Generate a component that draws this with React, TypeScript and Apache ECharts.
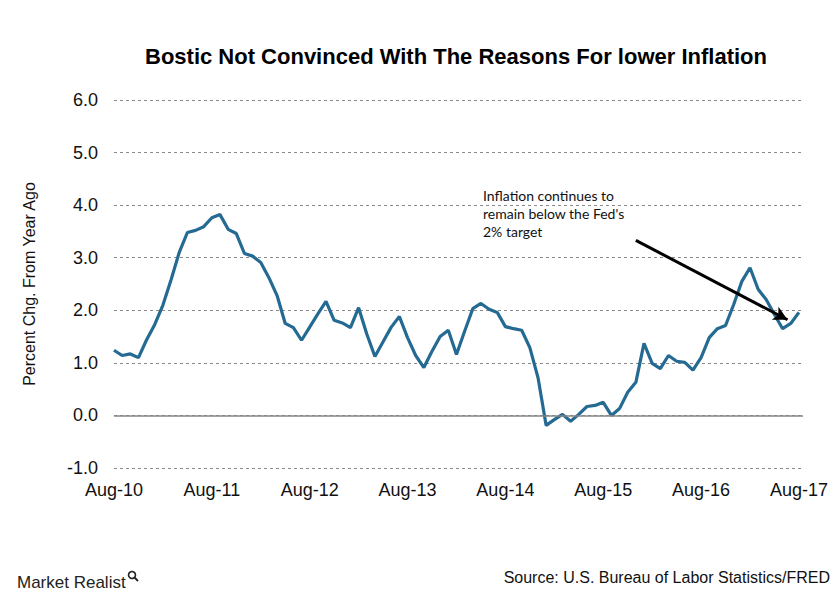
import React, { useEffect, useRef } from "react";
import * as echarts from "echarts";

const xTickLabels = ["Aug-10", "Aug-11", "Aug-12", "Aug-13", "Aug-14", "Aug-15", "Aug-16", "Aug-17"];

// Monthly CPI, percent change from year ago, Aug-10 .. Aug-17
const inflation = [
  1.24, 1.14, 1.17, 1.10, 1.44, 1.73, 2.10, 2.58, 3.10, 3.48, 3.52, 3.59,
  3.76, 3.82, 3.54, 3.46, 3.08, 3.03, 2.91, 2.62, 2.28, 1.75, 1.67, 1.43,
  1.68, 1.93, 2.17, 1.81, 1.76, 1.67, 2.05, 1.55, 1.12, 1.40, 1.68, 1.88,
  1.48, 1.14, 0.91, 1.22, 1.50, 1.62, 1.16, 1.60, 2.03, 2.13, 2.02, 1.96,
  1.69, 1.65, 1.62, 1.29, 0.72, -0.19, -0.08, 0.02, -0.11, 0.02, 0.17, 0.19,
  0.25, 0.00, 0.13, 0.44, 0.63, 1.37, 0.99, 0.89, 1.14, 1.03, 1.01, 0.86,
  1.10, 1.48, 1.65, 1.71, 2.11, 2.55, 2.81, 2.40, 2.20, 1.92, 1.65, 1.75,
  1.96,
];

const arrowStart = [64, 3.33];
const arrowEnd = [82.6, 1.82];

const annotationLines = ["Inflation continues to", "remain below the Fed's", "2% target"];

export default function App() {
  const ref = useRef<HTMLDivElement>(null);

  useEffect(() => {
    if (!ref.current) return;
    const chart = echarts.init(ref.current, undefined, { renderer: "svg" });
    const data = inflation.map((v, i) => [i, v]);
    chart.setOption({
      animation: false,
      backgroundColor: "#ffffff",
      title: {
        text: "Bostic Not Convinced With The Reasons For lower Inflation",
        left: 140,
        top: 40,
        textStyle: {
          fontFamily: "'Liberation Sans', Arial, sans-serif",
          fontWeight: "bold",
          fontSize: 22,
          color: "#000000",
        },
      },
      grid: { left: 114, right: 37, top: 100, bottom: 132, containLabel: false },
      xAxis: {
        type: "value",
        min: 0,
        max: 84.5,
        interval: 12,
        axisLine: { show: false },
        axisTick: { show: false },
        splitLine: { show: false },
        axisLabel: {
          margin: 13,
          fontSize: 18,
          color: "#111111",
          fontFamily: "'Liberation Sans', Arial, sans-serif",
          formatter: (v: number) => (v % 12 === 0 && v / 12 < xTickLabels.length ? xTickLabels[v / 12] : ""),
        },
      },
      yAxis: {
        type: "value",
        min: -1,
        max: 6,
        interval: 1,
        name: "Percent Chg. From Year Ago",
        nameLocation: "middle",
        nameGap: 77,
        nameTextStyle: {
          fontSize: 16,
          color: "#111111",
          fontFamily: "'Liberation Sans', Arial, sans-serif",
        },
        axisLine: { show: false },
        axisTick: { show: false },
        axisLabel: {
          margin: 16,
          fontSize: 18,
          color: "#111111",
          fontFamily: "'Liberation Sans', Arial, sans-serif",
          formatter: (v: number) => v.toFixed(1),
        },
        splitLine: { lineStyle: { color: "#8a8a8a", type: [3, 3], width: 1 } },
      },
      series: [
        {
          type: "line",
          data,
          showSymbol: false,
          symbol: "none",
          lineStyle: { color: "#246a93", width: 3.2 },
          z: 3,
          markLine: {
            silent: true,
            animation: false,
            label: { show: false },
            data: [
              [
                { coord: [0, 0], symbol: "none", lineStyle: { color: "#868686", width: 1.5, type: "solid" } },
                { coord: [84.5, 0], symbol: "none" },
              ],
              [
                { coord: arrowStart, symbol: "none", lineStyle: { color: "#000000", width: 3, type: "solid" } },
                { coord: arrowEnd, symbol: "arrow", symbolSize: [11, 14] },
              ],
            ],
          },
        },
      ],
      graphic: [
        {
          type: "text",
          left: 483,
          top: 186,
          style: {
            text: annotationLines.join("\n"),
            fontFamily: "Lato, 'Open Sans', sans-serif",
            fontSize: 14,
            lineHeight: 18,
            fill: "#111111",
          },
        },
        {
          type: "text",
          left: 17,
          top: 574,
          style: {
            text: "Market Realist",
            fontFamily: "'Liberation Sans', Arial, sans-serif",
            fontSize: 17,
            fill: "#222222",
          },
        },
        {
          type: "circle",
          shape: { cx: 132, cy: 575, r: 3.5 },
          style: { fill: "none", stroke: "#222222", lineWidth: 1.6 },
        },
        {
          type: "line",
          shape: { x1: 134.5, y1: 577.5, x2: 138, y2: 581 },
          style: { stroke: "#222222", lineWidth: 1.8 },
        },
        {
          type: "text",
          right: 10,
          top: 569,
          style: {
            text: "Source: U.S. Bureau of Labor Statistics/FRED",
            fontFamily: "'Liberation Sans', Arial, sans-serif",
            fontSize: 16,
            fill: "#111111",
          },
        },
      ],
    });
    return () => chart.dispose();
  }, []);

  return (
    <div
      ref={ref}
      style={{ position: "absolute", left: 0, top: 0, width: 840, height: 600, background: "#fff" }}
    />
  );
}
